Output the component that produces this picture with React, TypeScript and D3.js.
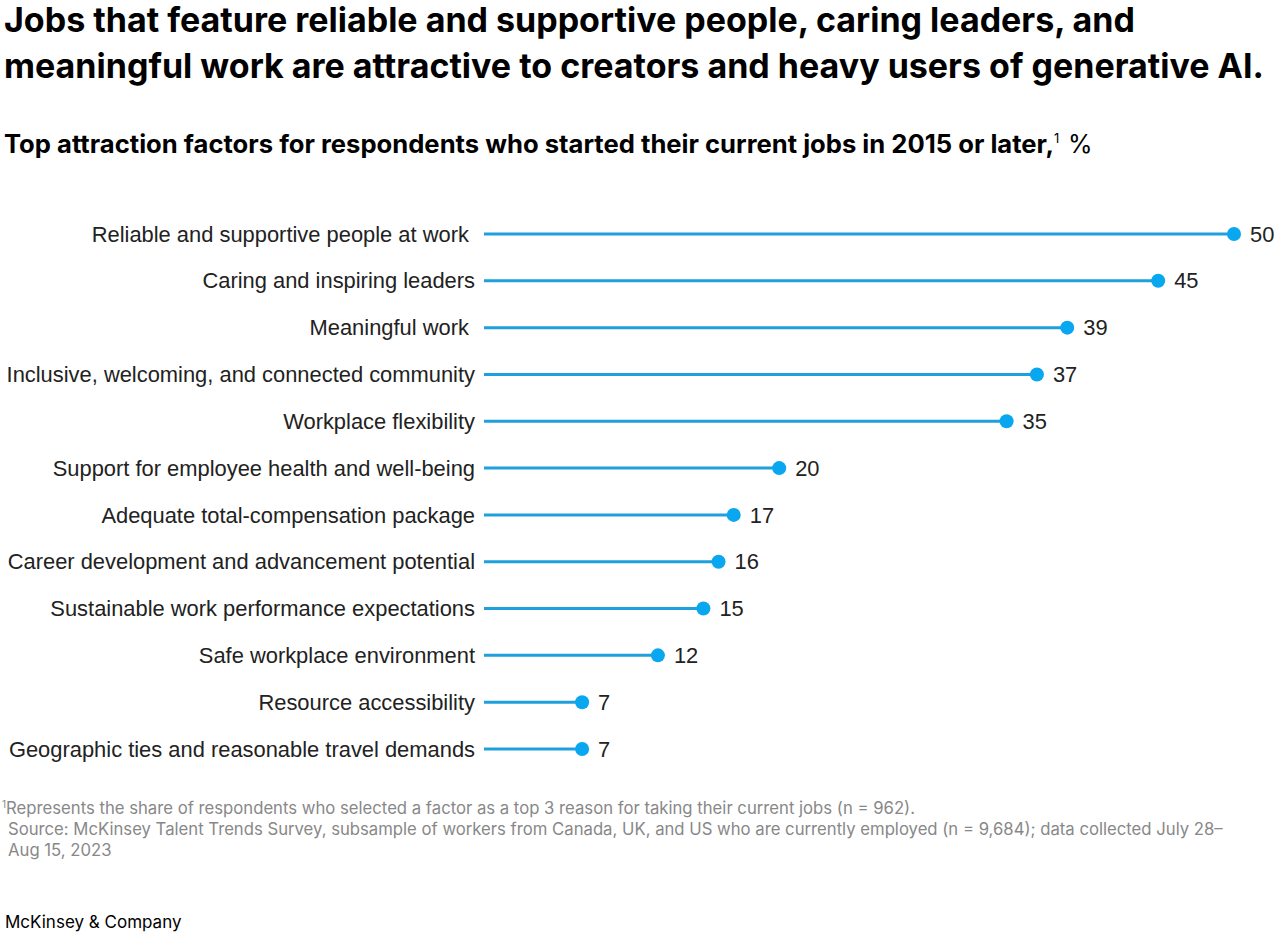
import React from "react";
import * as d3 from "d3";

const categories = [
  "Reliable and supportive people at work ",
  "Caring and inspiring leaders",
  "Meaningful work ",
  "Inclusive, welcoming, and connected community",
  "Workplace flexibility",
  "Support for employee health and well-being",
  "Adequate total-compensation package",
  "Career development and advancement potential",
  "Sustainable work performance expectations",
  "Safe workplace environment",
  "Resource accessibility",
  "Geographic ties and reasonable travel demands",
];
const values = [50, 45, 39, 37, 35, 20, 17, 16, 15, 12, 7, 7];

const titleLines = [
  "Jobs that feature reliable and supportive people, caring leaders, and",
  "meaningful work are attractive to creators and heavy users of generative AI.",
];
const subtitle = "Top attraction factors for respondents who started their current jobs in 2015 or later,";
const footnotes = [
  "Represents the share of respondents who selected a factor as a top 3 reason for taking their current jobs (n = 962).",
  "Source: McKinsey Talent Trends Survey, subsample of workers from Canada, UK, and US who are currently employed (n = 9,684); data collected July 28–",
  "Aug 15, 2023",
];

const W = 1280;
const H = 936;
const FONT = "Inter, 'Liberation Sans', Arial, sans-serif";
const LABEL_FONT = "'Liberation Sans', Arial, sans-serif";

export default function App() {
  const x = d3.scaleLinear().domain([0, 50]).range([476, 1234]);
  const y = d3.scalePoint<string>().domain(categories).range([234, 749]);
  const lineStart = 484;

  return (
    <svg
      width={W}
      height={H}
      style={{ position: "absolute", left: 0, top: 0, background: "#fff" }}
      fontFamily={FONT}
    >
      {titleLines.map((t, i) => (
        <text key={i} x={4} y={32 + i * 46} fontSize={34} fontWeight={700} fill="#000">
          {t}
        </text>
      ))}
      <text x={4} y={153} fontSize={25} fontWeight={700} fill="#000" textLength={1050} lengthAdjust="spacingAndGlyphs">
        {subtitle}
      </text>
      <text x={1054} y={143} fontSize={13} fill="#000">1</text>
      <text x={1068} y={153} fontSize={25} fill="#000">%</text>

      {categories.map((c, i) => {
        const cy = y(c)!;
        const cx = x(values[i]);
        return (
          <g key={c}>
            <text
              x={475}
              y={cy}
              dy="0.35em"
              fontSize={21.9}
              textAnchor="end"
              fill="#222"
              fontFamily={LABEL_FONT}
              style={{ whiteSpace: "pre" }}
            >
              {c}
            </text>
            <line x1={lineStart} x2={cx} y1={cy} y2={cy} stroke="#1f9fdb" strokeWidth={3} />
            <circle cx={cx} cy={cy} r={7} fill="#09a7ef" />
            <text x={cx + 16} y={cy} dy="0.35em" fontSize={21.9} fill="#222" fontFamily={LABEL_FONT}>
              {values[i]}
            </text>
          </g>
        );
      })}

      <text x={2} y={814} fontSize={16.7} fill="#888">
        <tspan fontSize={10} dy={-6}>1</tspan>
        <tspan dy={6}>{footnotes[0]}</tspan>
      </text>
      <text x={8} y={835} fontSize={16.7} fill="#888">{footnotes[1]}</text>
      <text x={8} y={856} fontSize={16.7} fill="#888">{footnotes[2]}</text>

      <text x={5} y={928} fontSize={17} fill="#000">McKinsey &amp; Company</text>
    </svg>
  );
}
